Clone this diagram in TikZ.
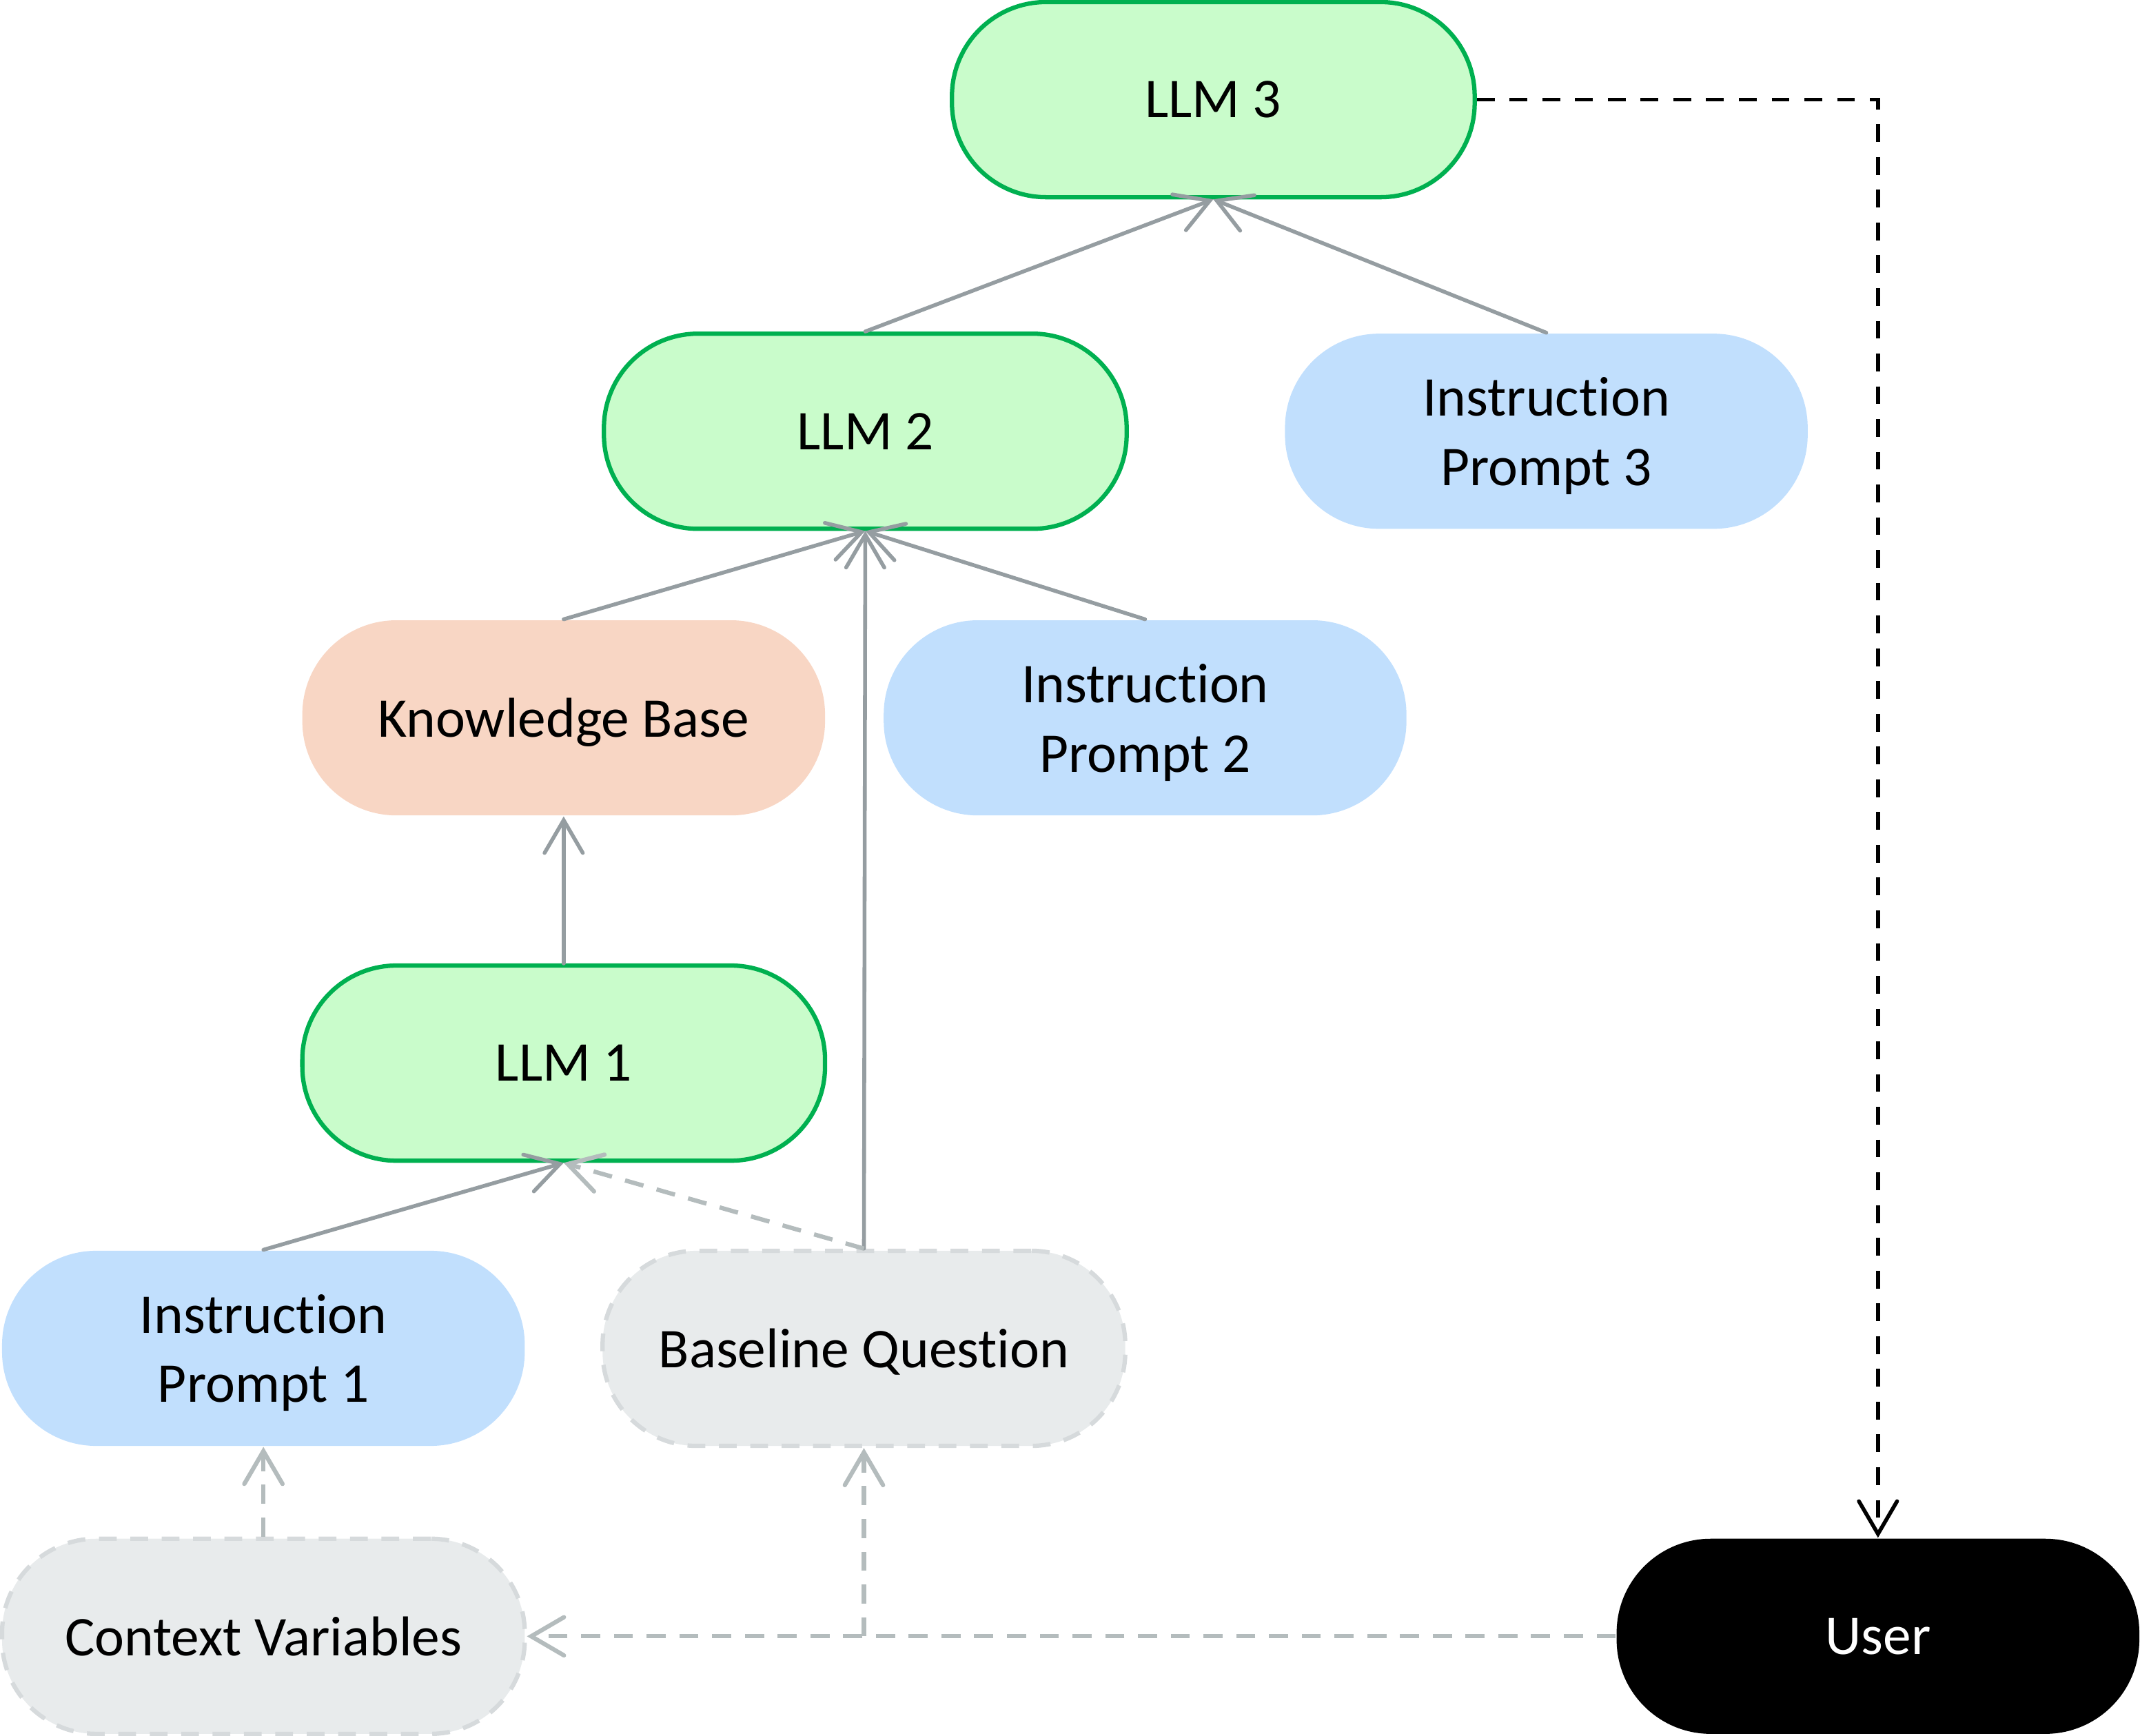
\documentclass[tikz,border=0pt]{standalone}
\usepackage{fontspec}
\setmainfont{Carlito}[Ligatures=NoCommon]
\usetikzlibrary{arrows.meta}
\definecolor{llmfill}{HTML}{C9FCCB}
\definecolor{llmline}{HTML}{00B050}
\definecolor{promptfill}{HTML}{C1DFFD}
\definecolor{kbfill}{HTML}{F8D6C4}
\definecolor{inputfill}{HTML}{E8EBEC}
\definecolor{inputline}{HTML}{D6DADC}
\definecolor{linkgray}{HTML}{959DA1}
\definecolor{optgray}{HTML}{B4BCBD}
\begin{document}
\begin{tikzpicture}[font=\fontsize{11.7}{14.5}\selectfont,
    pill/.style={rounded corners=0.69cm,minimum width=3.83cm,minimum height=1.43cm,align=center,inner sep=0pt,text depth=0pt},
    llm/.style={pill,fill=llmfill,draw=llmline,line width=0.9pt},
    prompt/.style={pill,fill=promptfill},
    kb/.style={pill,fill=kbfill},
    input/.style={pill,fill=inputfill,draw=inputline,line width=0.9pt,dash pattern=on 0.13cm off 0.1cm},
    user/.style={pill,fill=black,text=white},
    link/.style={draw=linkgray,line width=0.8pt,line cap=round,-{Straight Barb[length=0.24cm,width=0.28cm,line cap=round]}},
    optlink/.style={link,draw=optgray,line width=0.9pt,line cap=butt,dash pattern=on 0.14cm off 0.1cm},
    userlink/.style={link,draw=black,line cap=butt,dash pattern=on 0.13cm off 0.11cm}]
    \useasboundingbox (0,0) rectangle (15.68,12.72);
    \node[llm] (llm3) at (8.89,11.99) {LLM 3};
    \node[llm] (llm2) at (6.34,9.56) {LLM 2};
    \node[prompt] (ip3) at (11.33,9.56) {Instruction\\Prompt 3};
    \node[kb] (kb) at (4.13,7.46) {Knowledge Base};
    \node[prompt] (ip2) at (8.39,7.46) {Instruction\\Prompt 2};
    \node[llm] (llm1) at (4.13,4.93) {LLM 1};
    \node[prompt] (ip1) at (1.93,2.84) {Instruction\\Prompt 1};
    \node[input] (bq) at (6.33,2.84) {Baseline Question};
    \node[input] (cv) at (1.93,0.73) {Context Variables};
    \node[user] (user) at (13.76,0.73) {User};
    \foreach \a/\b in {llm2/llm3,ip3/llm3,kb/llm2,ip2/llm2,bq/llm2,llm1/kb,ip1/llm1}{
        \draw[link] (\a.north) -- (\b.south);
    }
    \draw[optlink] (bq.north) -- (llm1.south);
    \draw[optlink] (cv.north) -- (ip1.south);
    \draw[optlink] (user.west) -- (cv.east);
    \draw[optlink] (bq.south |- user.west) -- (bq.south);
    \draw[userlink] (llm3.east) -| (user.north);
\end{tikzpicture}
\end{document}
